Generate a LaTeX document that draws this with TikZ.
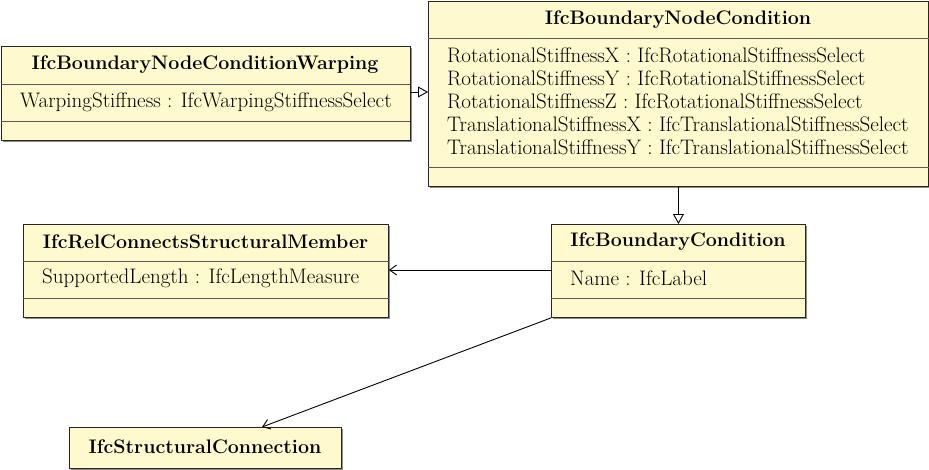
\documentclass[tikz,border=0pt]{standalone}
\usetikzlibrary{arrows.meta,shadows}
\definecolor{classfill}{RGB}{255,250,205}
\newcommand{\umlfont}{\fontsize{21}{23}\selectfont}
\newcommand{\umltitlefont}{\fontsize{19.6}{23}\selectfont\bfseries}
\tikzset{
  classbox/.style={draw=black!85, fill=classfill, line width=0.9pt, anchor=north west, inner sep=0pt,
    drop shadow={shadow xshift=2pt, shadow yshift=-2pt, fill=black!45, opacity=1}},
  classname/.style={font=\umltitlefont, inner sep=0pt},
  attr/.style={font=\umlfont, inner sep=0pt, anchor=west, align=left},
  sep/.style={draw=black!65, line width=0.9pt},
  inherit/.style={-{Triangle[open, length=10pt, width=11pt]}, line width=0.9pt},
  assoc/.style={-{Straight Barb[length=7pt, width=10pt]}, line width=0.9pt}
}
\begin{document}
\begin{tikzpicture}[x=1pt, y=-1pt]
\useasboundingbox (0,0) rectangle (929,469);
% class boxes
\node[classbox, minimum width=409pt, minimum height=94pt] (warp) at (0.5,46) {};
\node[classbox, minimum width=500pt, minimum height=185pt] (bnc) at (428,1) {};
\node[classbox, minimum width=365pt, minimum height=93pt] (rel) at (23,224) {};
\node[classbox, minimum width=254pt, minimum height=93pt] (bc) at (551,224) {};
\node[classbox, minimum width=272pt, minimum height=41pt] (sc) at (69,427) {};
% compartments
\draw[sep] (warp.west |- 0,84) -- (warp.east |- 0,84);
\draw[sep] (warp.west |- 0,121) -- (warp.east |- 0,121);
\draw[sep] (bnc.west |- 0,38) -- (bnc.east |- 0,38);
\draw[sep] (bnc.west |- 0,167) -- (bnc.east |- 0,167);
\draw[sep] (rel.west |- 0,261) -- (rel.east |- 0,261);
\draw[sep] (rel.west |- 0,298) -- (rel.east |- 0,298);
\draw[sep] (bc.west |- 0,261) -- (bc.east |- 0,261);
\draw[sep] (bc.west |- 0,298) -- (bc.east |- 0,298);
% names
\node[classname] (warpname) at (205,65) {IfcBoundaryNodeConditionWarping};
\node[classname] (bncname) at (678,19.5) {IfcBoundaryNodeCondition};
\node[classname] (relname) at (205.5,242) {IfcRelConnectsStructuralMember};
\node[classname] (bcname) at (678,242) {IfcBoundaryCondition};
\node[classname] (scname) at (205,447) {IfcStructuralConnection};
% attributes
\node[attr] (warpattr) at (20,102) {WarpingStiffness : IfcWarpingStiffnessSelect};
\node[attr] (bncattr) at (447,101) {RotationalStiffnessX : IfcRotationalStiffnessSelect\\
  RotationalStiffnessY : IfcRotationalStiffnessSelect\\
  RotationalStiffnessZ : IfcRotationalStiffnessSelect\\
  TranslationalStiffnessX : IfcTranslationalStiffnessSelect\\
  TranslationalStiffnessY : IfcTranslationalStiffnessSelect};
\node[attr] (relattr) at (42,278) {SupportedLength : IfcLengthMeasure};
\node[attr] (bcattr) at (570,278) {Name : IfcLabel};
% connectors
\draw[inherit] (warp.east |- 0,92) -- (bnc.west |- 0,92);
\draw[inherit] (bnc.south) -- (bc.north);
\draw[assoc] (bc.west |- 0,270) -- (rel.east |- 0,270);
\draw[assoc] (bc.south west) -- (sc.north -| 262,0);
\end{tikzpicture}
\end{document}
